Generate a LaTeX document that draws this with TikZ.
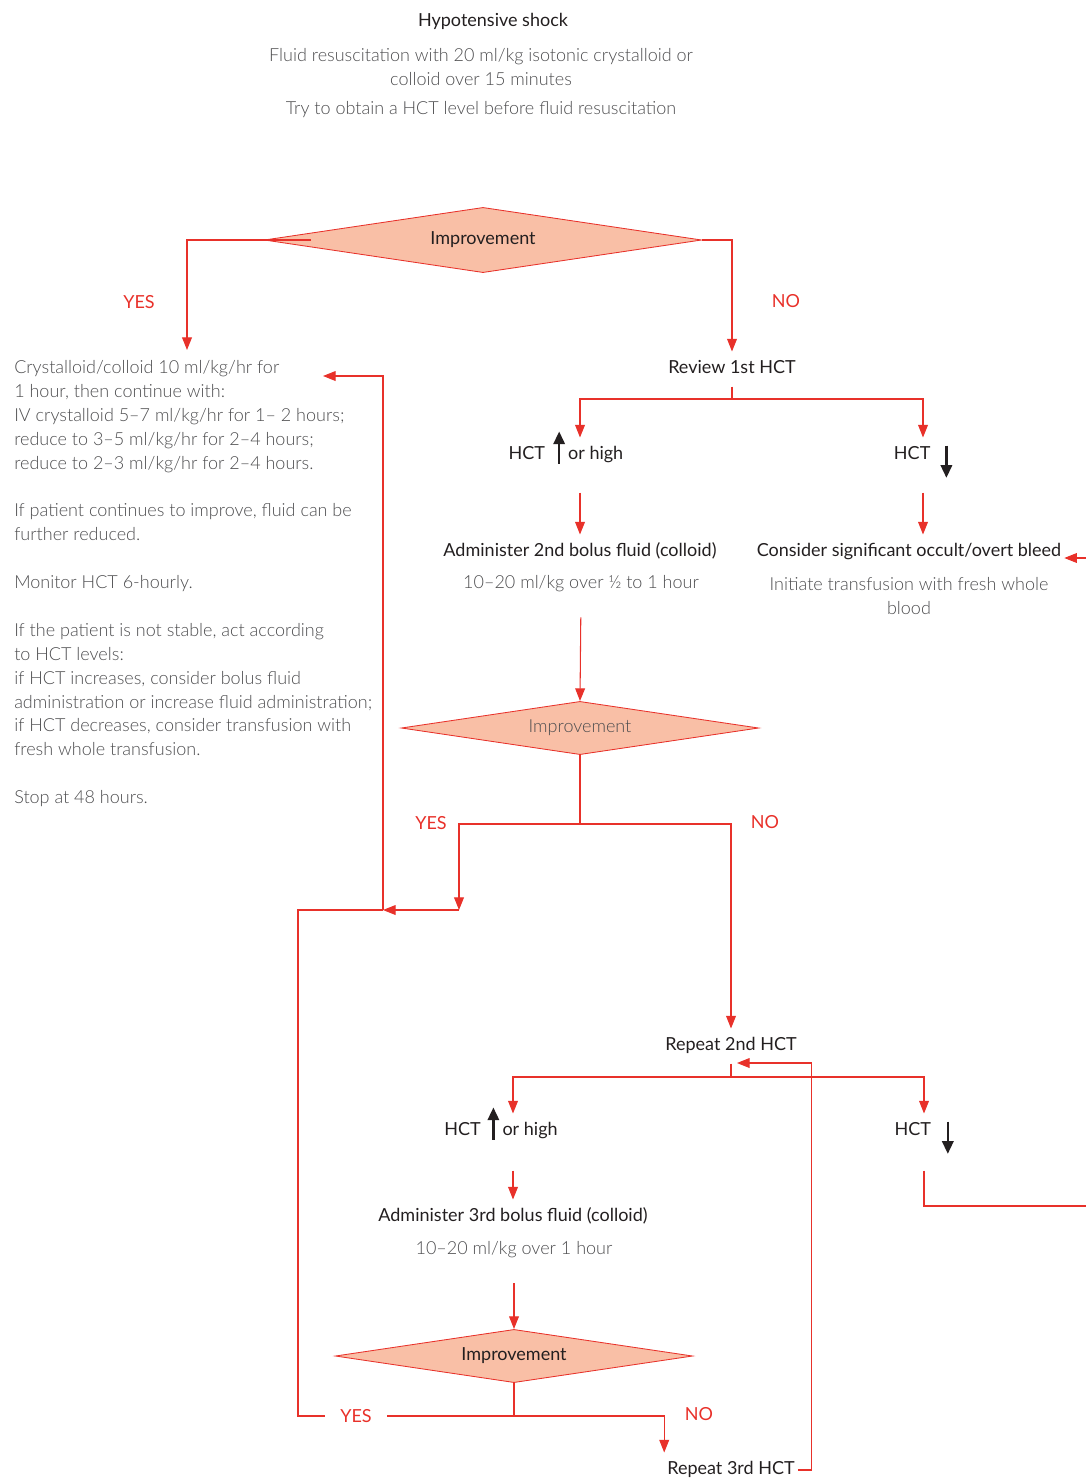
\documentclass[tikz,border=0pt]{standalone}
\usepackage{fontspec}
\setmainfont{Lato}
\newfontfamily\lightfont{Lato Light}
\usetikzlibrary{arrows.meta,shapes.geometric}
\definecolor{flowred}{HTML}{E8312A}
\definecolor{salmon}{HTML}{F9BFA6}
\definecolor{ink}{HTML}{231F20}
\definecolor{greyink}{HTML}{4D4D4F}
\newcommand{\hctup}{\tikz[baseline=0pt]{\useasboundingbox (-4pt,0pt) rectangle (4pt,8pt);\draw [ink,line width=1.7pt,-{Triangle[length=9pt,width=8pt]}] (0pt,-3pt) -- (0pt,20pt);}}
\newcommand{\hctdown}{\tikz[baseline=0pt]{\useasboundingbox (-4pt,0pt) rectangle (4pt,8pt);\draw [ink,line width=1.7pt,-{Triangle[length=9pt,width=8pt]}] (0pt,10pt) -- (0pt,-13pt);}}
\begin{document}
\begin{tikzpicture}[x=0.025cm,y=-0.025cm,
		redline/.style={flowred,line width=0.75pt},
		flow/.style={redline,-{Triangle[length=9pt,width=7pt]}},
		dec/.style={diamond,draw=flowred,fill=salmon,line width=0.6pt,aspect=6.7},
		dark/.style={text=ink,font=\fontsize{12.8}{17}\selectfont,inner xsep=2pt,inner ysep=6pt,text height=9.5pt,text depth=3pt},
		light/.style={text=greyink,font=\fontsize{12.8}{17}\selectfont\lightfont,inner sep=2pt,align=center},
		answer/.style={text=flowred,font=\fontsize{12.8}{17}\selectfont,inner sep=2pt}]
			\useasboundingbox (0,0) rectangle (1086,1481);
			\clip (0,0) rectangle (1086,1481);
			\node [dark] (title) at (493,22) {Hypotensive shock};
			\node [light] (fluid) at (481,67) {Fluid resuscitation with 20 ml/kg isotonic crystalloid or\\colloid over 15 minutes};
			\node [light] (try) at (481,110) {Try to obtain a HCT level before fluid resuscitation};
			\node [dec,dark,minimum width=10.93cm,minimum height=1.63cm] (d1) at (483,240) {Improvement};
			\node [answer] (yes1) at (139,302) {YES};
			\node [answer] (no1) at (786,301) {NO};
			\node [light,align=left,inner sep=0pt,anchor=north west] (care) at (14,360) {Crystalloid/colloid 10 ml/kg/hr for\\
				1 hour, then continue with:\\
				IV crystalloid 5–7 ml/kg/hr for 1– 2 hours;\\
				reduce to 3–5 ml/kg/hr for 2–4 hours;\\
				reduce to 2–3 ml/kg/hr for 2–4 hours.\\[17pt]
				If patient continues to improve, fluid can be\\
				further reduced.\\[17pt]
				Monitor HCT 6-hourly.\\[17pt]
				If the patient is not stable, act according\\
				to HCT levels:\\
				if HCT increases, consider bolus fluid\\
				administration or increase fluid administration;\\
				if HCT decreases, consider transfusion with\\
				fresh whole transfusion.\\[17pt]
				Stop at 48 hours.};
			\node [dark] (rev1) at (732,369) {Review 1st HCT};
			\node [dark] (hup1) at (566,455) {HCT\hspace{6pt}\hctup\hspace{2.4pt}or high};
			\node [dark] (hdn1) at (923,455) {HCT\hspace{7.4pt}\hctdown};
			\node [dark] (adm2) at (580,552) {Administer 2nd bolus fluid (colloid)};
			\node [light] (dose2) at (581,584) {10–20 ml/kg over ½ to 1 hour};
			\node [dark] (bleed) at (909,552) {Consider significant occult/overt bleed};
			\node [light] (transf) at (909,596) {Initiate transfusion with fresh whole\\blood};
			\node [dec,light,minimum width=8.93cm,minimum height=1.33cm] (d2) at (580,728) {Improvement};
			\node [answer] (yes2) at (431,823) {YES};
			\node [answer] (no2) at (765,822) {NO};
			\node [dark] (rep2) at (731,1046) {Repeat 2nd HCT};
			\node [dark] (hup2) at (501,1131) {HCT\hspace{5pt}\hctup\hspace{2.5pt}or high};
			\node [dark] (hdn2) at (924,1131) {HCT\hspace{8pt}\hctdown};
			\node [dark] (adm3) at (513,1217) {Administer 3rd bolus fluid (colloid)};
			\node [light] (dose3) at (514,1250) {10–20 ml/kg over 1 hour};
			\node [dec,dark,minimum width=8.93cm,minimum height=1.33cm] (d3) at (514,1356) {Improvement};
			\node [answer,inner xsep=11pt] (yes3) at (356,1416) {YES};
			\node [answer] (no3) at (699,1414) {NO};
			\node [dark] (rep3) at (731,1470) {Repeat 3rd HCT};
			\coordinate (yin) at (187,350);
			\coordinate (cin) at (323,376);
			\coordinate (fork1) at (732,399);
			\coordinate (fork2) at (580,824);
			\coordinate (merge) at (459,910);
			\coordinate (back) at (383,910);
			\coordinate (loop) at (298,910);
			\coordinate (fork3) at (731,1077);
			\coordinate (rin) at (737,1063);
			\coordinate (fork4) at (514,1416);
			\draw [flow] ([xshift=1.18cm]d1.west) -| (yin);
			\draw [flow] (d1.east) -| (rev1.north);
			\draw [redline] (rev1.south) -- (fork1);
			\draw [flow] (fork1) -| (hup1.north -| adm2.north);
			\draw [flow] (fork1) -| (hdn1.north);
			\draw [flow,shorten <=0.5cm] (hup1.south -| adm2.north) -- (adm2.north);
			\draw [flow,shorten <=0.5cm] (hdn1.south) -- (hdn1.south |- bleed.north);
			\draw [flow,shorten <=0.55cm] (dose2.south) -- (d2.north);
			\draw [redline] (d2.south) -- (fork2);
			\draw [flow] (fork2) -| (merge);
			\draw [flow] (merge) -- (back);
			\draw [flow] (back) |- (cin);
			\draw [flow] (fork2) -| (rep2.north);
			\draw [redline] (rep2.south) -- (fork3);
			\draw [flow] (fork3) -| (hup2.north -| adm3.north);
			\draw [flow] (fork3) -| (hdn2.north);
			\draw [flow,shorten <=0.55cm] (hup2.south -| adm3.north) -- (adm3.north);
			\draw [flow,shorten <=0.55cm] (hdn2.south) |- (1110,1206) |- ([yshift=-0.15cm]bleed.east);
			\draw [flow,shorten <=0.55cm] (dose3.south) -- (d3.north);
			\draw [redline] (d3.south) -- (fork4);
			\draw [flow] (fork4) -| (rep3.north west);
			\draw [redline] (fork4) -- (yes3.east);
			\draw [redline] (yes3.west) -| (loop) -- (back);
			\draw [flow] (rep3.east) -- ++(14,0) |- (rin);
\end{tikzpicture}
\end{document}
